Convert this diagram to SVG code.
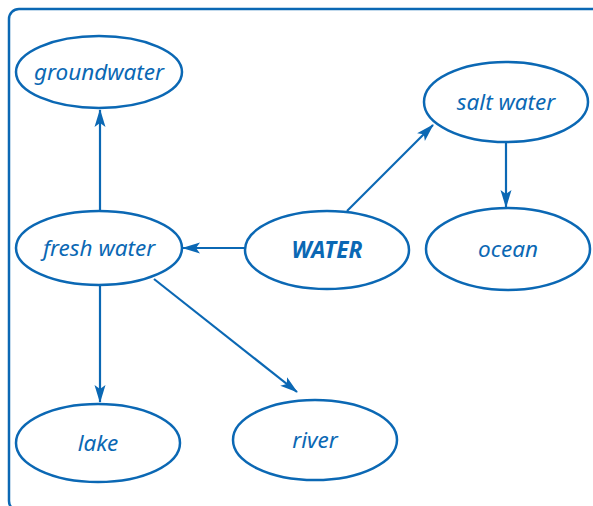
<svg xmlns="http://www.w3.org/2000/svg" width="593" height="506" viewBox="0 0 593 506">
<defs>
<style>
.n ellipse{fill:#fff;stroke:#0b68b4;stroke-width:2.5}
.n text{font-family:"Noto Sans","Open Sans",sans-serif;font-style:italic;font-size:22.5px;fill:#0b68b4;text-anchor:middle;dominant-baseline:central}
.c line{stroke:#0b68b4;stroke-width:2.2;marker-end:url(#a)}
</style>
<marker id="a" viewBox="0 0 18 12" refX="17" refY="6" markerWidth="18" markerHeight="12" markerUnits="userSpaceOnUse" orient="auto">
<path d="M0,0.5 L18,6 L0,11.5 L4,6 Z" fill="#0b68b4"/>
</marker>
</defs>
<rect x="9" y="9" width="600" height="502" rx="10" fill="none" stroke="#0b68b4" stroke-width="2.5"/>
<g class="c">
<line x1="100" y1="211" x2="100" y2="110"/>
<line x1="245" y1="248" x2="183" y2="248"/>
<line x1="347" y1="211" x2="433" y2="125"/>
<line x1="506" y1="143" x2="506" y2="207"/>
<line x1="100" y1="286" x2="100" y2="402"/>
<line x1="154" y1="279" x2="297" y2="392"/>
</g>
<g class="n" id="groundwater"><ellipse cx="99" cy="72" rx="83" ry="36"/><text x="99" y="71">groundwater</text></g>
<g class="n" id="fresh"><ellipse cx="99" cy="248" rx="83" ry="37"/><text x="99" y="247">fresh water</text></g>
<g class="n" id="water"><ellipse cx="327" cy="250" rx="82" ry="39"/><text x="327" y="249" style="font-weight:bold">WATER</text></g>
<g class="n" id="salt"><ellipse cx="506" cy="102" rx="82" ry="40"/><text x="506" y="101">salt water</text></g>
<g class="n" id="ocean"><ellipse cx="508" cy="249" rx="82" ry="41"/><text x="508" y="248">ocean</text></g>
<g class="n" id="lake"><ellipse cx="98" cy="443" rx="82" ry="39"/><text x="98" y="442">lake</text></g>
<g class="n" id="river"><ellipse cx="315" cy="440" rx="82" ry="40"/><text x="315" y="439">river</text></g>
</svg>
